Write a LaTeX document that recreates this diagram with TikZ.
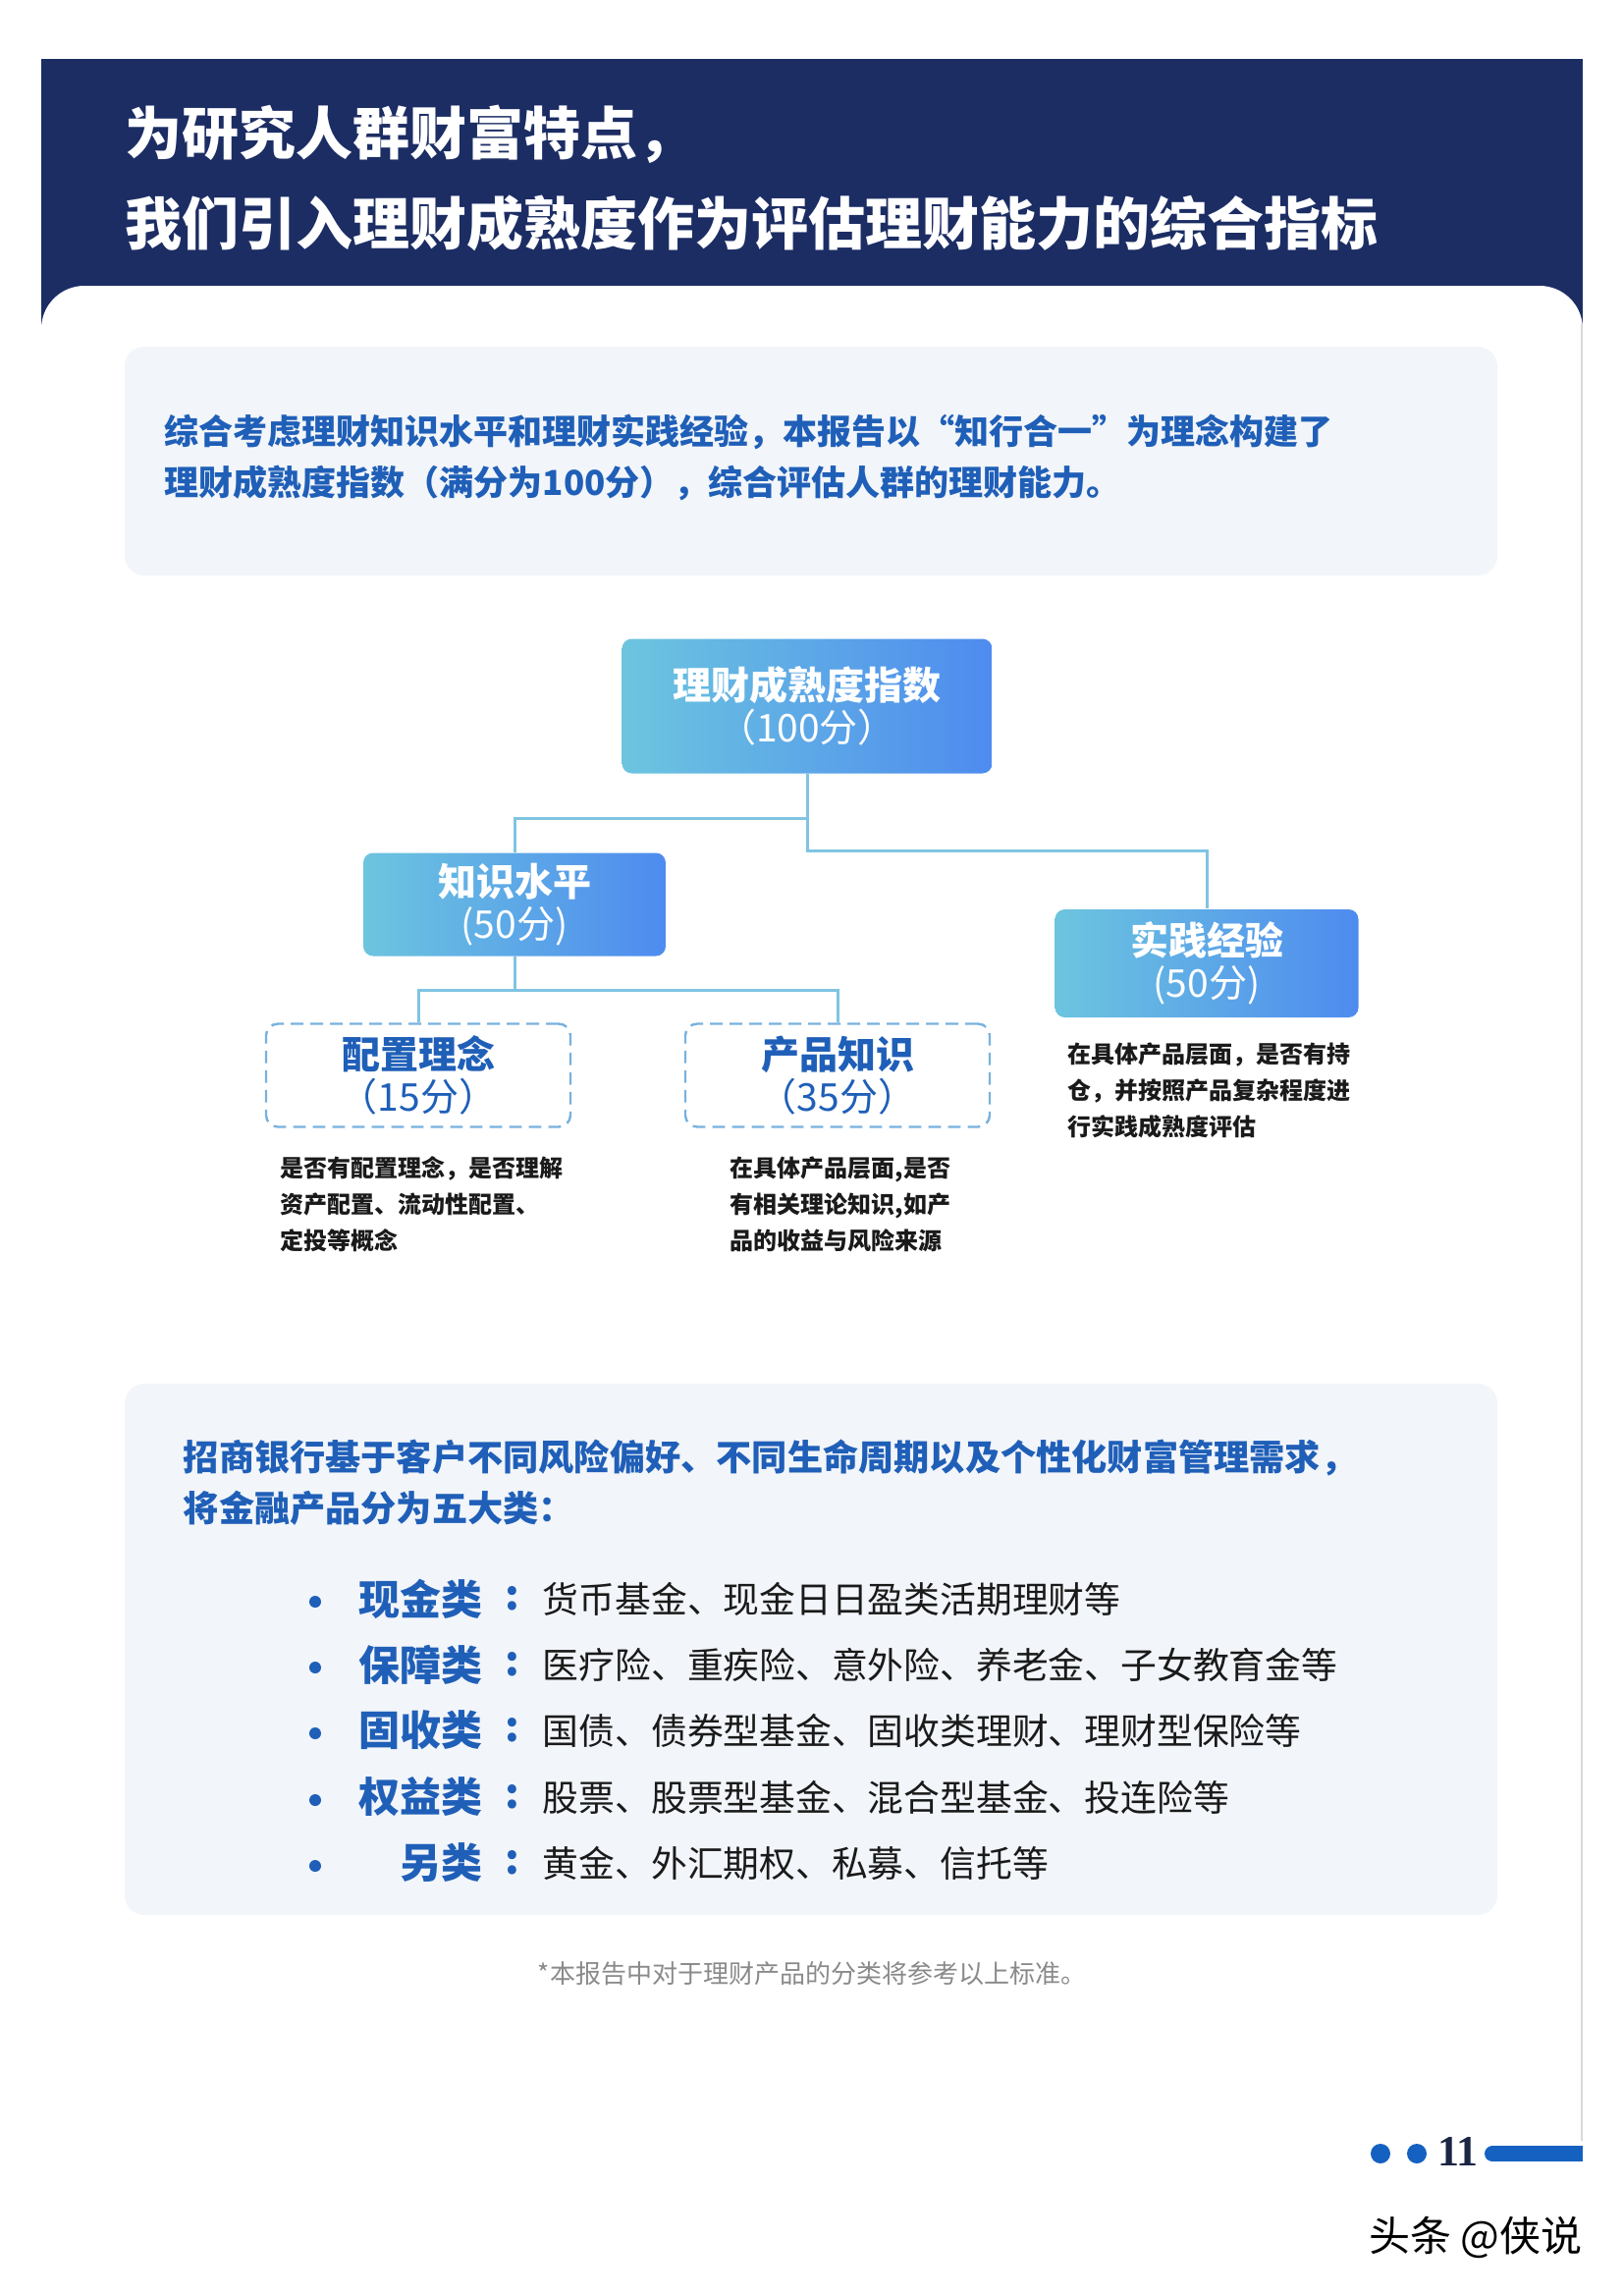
\documentclass[tikz,border=0pt]{standalone}
\usepackage{fontspec}
\setmainfont{Noto Sans CJK SC}
\newfontfamily\numfont{Liberation Serif}
\definecolor{navy}{HTML}{1C2D64}
\definecolor{panel}{HTML}{F2F5F9}
\definecolor{tblue}{HTML}{1F5FB8}
\definecolor{gradL}{HTML}{6CC5DF}
\definecolor{gradR}{HTML}{4E8BEF}
\definecolor{conncol}{HTML}{80C4E2}
\definecolor{dashcol}{HTML}{78B2DE}
\definecolor{txtdark}{HTML}{1A1A1A}
\definecolor{pagecol}{HTML}{1561C1}
\definecolor{numcol}{HTML}{1B2545}
\definecolor{footgray}{HTML}{8A8A8A}
\tikzset{
  titletxt/.style={text=white, inner sep=0pt, font=\fontsize{14.5pt}{17pt}\selectfont\bfseries},
  introtxt/.style={text=tblue, inner sep=0pt, font=\fontsize{8.75pt}{13pt}\selectfont\bfseries},
  headtxt/.style={text=tblue, inner sep=0pt, font=\fontsize{9.05pt}{13pt}\selectfont\bfseries},
  gradbox/.style={rounded corners=2.5pt, left color=gradL, right color=gradR, draw=none,
    text=white, align=center, inner sep=0pt, font=\fontsize{9.75pt}{10.8pt}\selectfont},
  dashbox/.style={rounded corners=3pt, draw=dashcol, line width=0.6pt, dash pattern=on 3.2pt off 1.8pt,
    fill=white, text=tblue, align=center, inner sep=0pt, minimum width=77.5pt, minimum height=26.25pt,
    font=\fontsize{9.75pt}{10.8pt}\selectfont},
  conn/.style={draw=conncol, line width=0.75pt},
  desc/.style={text=txtdark, align=left, inner sep=0pt, font=\fontsize{6pt}{9.25pt}\selectfont\bfseries},
  cat/.style={text=tblue, inner sep=0pt, font=\fontsize{10.5pt}{12pt}\selectfont\bfseries},
  catdesc/.style={text=txtdark, inner sep=0pt, font=\fontsize{9.2pt}{11pt}\selectfont},
  bulletdot/.style={circle, fill=tblue, inner sep=0pt, minimum size=3pt},
  pagedot/.style={circle, fill=pagecol, inner sep=0pt, minimum size=5pt},
}
\begin{document}
\begin{tikzpicture}[x=0.25pt,y=-0.25pt]
\useasboundingbox (0,0) rectangle (1652,2338);
\fill[white] (0,0) rectangle (1652,2338);
% header
\fill[navy] (42,60) rectangle (1612,335);
\fill[white] (42,2338) [rounded corners=11pt] -- (42,291) -- (1612,291) -- (1612,2338) -- cycle;
\draw[black!15, line width=0.5pt] (1611,330) -- (1611,2180);
\node[titletxt, anchor=west] (t1) at (127,137) {为研究人群财富特点，};
\node[titletxt, anchor=west] (t2) at (127,227) {我们引入理财成熟度作为评估理财能力的综合指标};
% intro panel
\fill[panel, rounded corners=5pt] (127,353) rectangle (1525,586);
\node[introtxt, anchor=west] (i1) at (167,440) {综合考虑理财知识水平和理财实践经验，本报告以“知行合一”为理念构建了};
\node[introtxt, anchor=west] (i2) at (167,492) {理财成熟度指数（满分为100分），综合评估人群的理财能力。};
% tree
\node[gradbox, minimum width=94.25pt, minimum height=34.25pt] (root) at (822,719)
  {{\bfseries 理财成熟度指数}\\（100分）};
\node[gradbox, minimum width=77pt, minimum height=26.25pt] (know) at (524,921)
  {{\bfseries 知识水平}\\(50分)};
\node[gradbox, minimum width=77.25pt, minimum height=27.5pt] (prac) at (1229,981)
  {{\bfseries 实践经验}\\(50分)};
\node[dashbox] (alloc) at (426,1095) {{\bfseries 配置理念}\\（15分）};
\node[dashbox] (prod) at (853,1095) {{\bfseries 产品知识}\\（35分）};
\draw[conn] (root.south) -- ++(0,45) -| (know.north);
\draw[conn] (root.south) -- ++(0,78) -| (prac.north);
\draw[conn] (know.south) -- ++(0,34) -| (alloc.north);
\draw[conn] (know.south) -- ++(0,34) -| (prod.north);
\node[desc, anchor=north west] (d1) at (285,1177) {是否有配置理念，是否理解\\资产配置、流动性配置、\\定投等概念};
\node[desc, anchor=north west] (d2) at (743,1177) {在具体产品层面,是否\\有相关理论知识,如产\\品的收益与风险来源};
\node[desc, anchor=north west] (d3) at (1087,1061) {在具体产品层面，是否有持\\仓，并按照产品复杂程度进\\行实践成熟度评估};
% lower panel
\fill[panel, rounded corners=5pt] (127,1409) rectangle (1525,1950);
\node[headtxt, anchor=west] (h1) at (186,1484) {招商银行基于客户不同风险偏好、不同生命周期以及个性化财富管理需求，};
\node[headtxt, anchor=west] (h2) at (186,1536) {将金融产品分为五大类：};
\foreach \yy/\cc/\dd [count=\i] in {1628/现金类/货币基金、现金日日盈类活期理财等,
  1695/保障类/医疗险、重疾险、意外险、养老金、子女教育金等,
  1762/固收类/国债、债券型基金、固收类理财、理财型保险等,
  1830/权益类/股票、股票型基金、混合型基金、投连险等,
  1897/另类/黄金、外汇期权、私募、信托等}{
  \node[bulletdot] (b\i) at (321,\yy+3) {};
  \node[cat, anchor=east] (c\i) at (492,\yy) {\cc};
  \node[cat] (k\i) at (522,\yy) {:};
  \node[catdesc, anchor=west] (e\i) at (552,\yy) {\dd};
}
% footnote
\node[text=footgray, inner sep=0pt, font=\fontsize{6.5pt}{8pt}\selectfont] (fn) at (827,2010) {*本报告中对于理财产品的分类将参考以上标准。};
% page number
\node[pagedot] (p1) at (1406,2193) {};
\node[pagedot] (p2) at (1443,2193) {};
\node[text=numcol, inner sep=0pt, font=\numfont\bfseries\fontsize{11pt}{12pt}\selectfont] (pn) at (1485,2191) {11};
\fill[pagecol] (1520,2193) circle (8);
\fill[pagecol] (1520,2185) rectangle (1612,2201);
% watermark
\node[text=black, inner sep=0pt, anchor=east, font=\fontsize{10.5pt}{12pt}\selectfont] (wm) at (1612,2278) {头条 @侠说};
\end{tikzpicture}
\end{document}
